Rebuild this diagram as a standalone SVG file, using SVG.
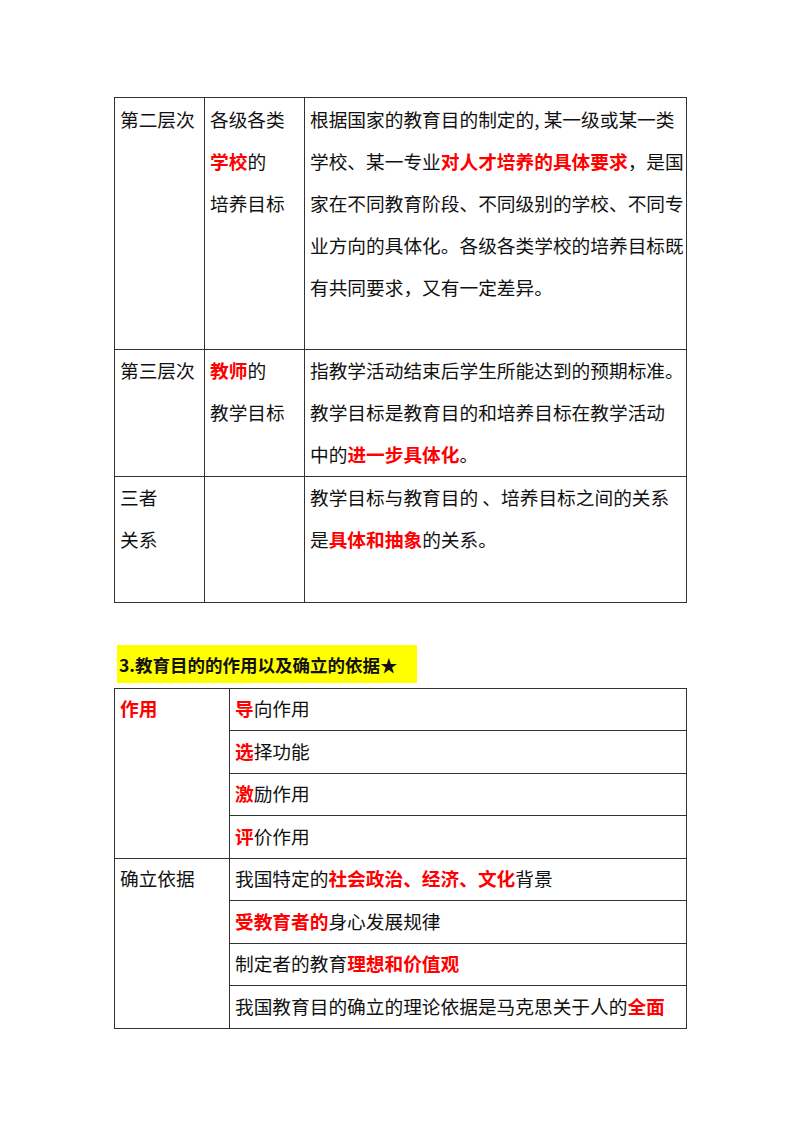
<svg xmlns="http://www.w3.org/2000/svg" width="800" height="1132" viewBox="0 0 800 1132">
<style>
text{font-family:"Noto Sans CJK SC","Liberation Sans",sans-serif;font-size:18.7px;fill:#111}
.r{fill:#f00;font-weight:bold}
.b{font-weight:bold}
.ln{stroke:#333;stroke-width:1;fill:none}
</style>
<rect width="800" height="1132" fill="#fff"/>
<g id="table1">
<rect class="ln" x="114.5" y="97.5" width="572" height="505"/>
<path class="ln" d="M204.5 97.5V602.5M304.5 97.5V602.5M114.5 349.5H686.5M114.5 476.5H686.5"/>
<text x="120" y="127">第二层次</text>
<text x="210" y="127">各级各类</text>
<text x="210" y="169"><tspan class="r">学校</tspan>的</text>
<text x="210" y="211">培养目标</text>
<text x="310" y="127">根据国家的教育目的制定的, 某一级或某一类</text>
<text x="310" y="169">学校、某一专业<tspan class="r">对人才培养的具体要求</tspan>，是国</text>
<text x="310" y="211">家在不同教育阶段、不同级别的学校、不同专</text>
<text x="310" y="253">业方向的具体化。各级各类学校的培养目标既</text>
<text x="310" y="295">有共同要求，又有一定差异。</text>
<text x="120" y="378">第三层次</text>
<text x="210" y="378"><tspan class="r">教师</tspan>的</text>
<text x="210" y="420">教学目标</text>
<text x="310" y="378">指教学活动结束后学生所能达到的预期标准。</text>
<text x="310" y="420">教学目标是教育目的和培养目标在教学活动</text>
<text x="310" y="462">中的<tspan class="r">进一步具体化</tspan>。</text>
<text x="120" y="505">三者</text>
<text x="120" y="547">关系</text>
<text x="310" y="505">教学目标与教育目的 、培养目标之间的关系</text>
<text x="310" y="547">是<tspan class="r">具体和抽象</tspan>的关系。</text>
</g>
<g id="heading">
<rect x="117" y="645" width="300" height="38" fill="#ffff00"/>
<text x="119" y="672" class="b" style="font-size:17.5px">3.教育目的的作用以及确立的依据★</text>
</g>
<g id="table2">
<rect class="ln" x="114.5" y="688.5" width="572" height="340"/>
<path class="ln" d="M229.5 688.5V1028.5M229.5 730.5H686.5M229.5 773.5H686.5M229.5 815.5H686.5M114.5 858.5H686.5M229.5 900.5H686.5M229.5 943.5H686.5M229.5 985.5H686.5"/>
<text x="120" y="716" class="r">作用</text>
<text x="235" y="716"><tspan class="r">导</tspan>向作用</text>
<text x="235" y="759"><tspan class="r">选</tspan>择功能</text>
<text x="235" y="801"><tspan class="r">激</tspan>励作用</text>
<text x="235" y="844"><tspan class="r">评</tspan>价作用</text>
<text x="120" y="886">确立依据</text>
<text x="235" y="886">我国特定的<tspan class="r">社会政治、经济、文化</tspan>背景</text>
<text x="235" y="929"><tspan class="r">受教育者的</tspan>身心发展规律</text>
<text x="235" y="971">制定者的教育<tspan class="r">理想和价值观</tspan></text>
<text x="235" y="1014">我国教育目的确立的理论依据是马克思关于人的<tspan class="r">全面</tspan></text>
</g>
</svg>
